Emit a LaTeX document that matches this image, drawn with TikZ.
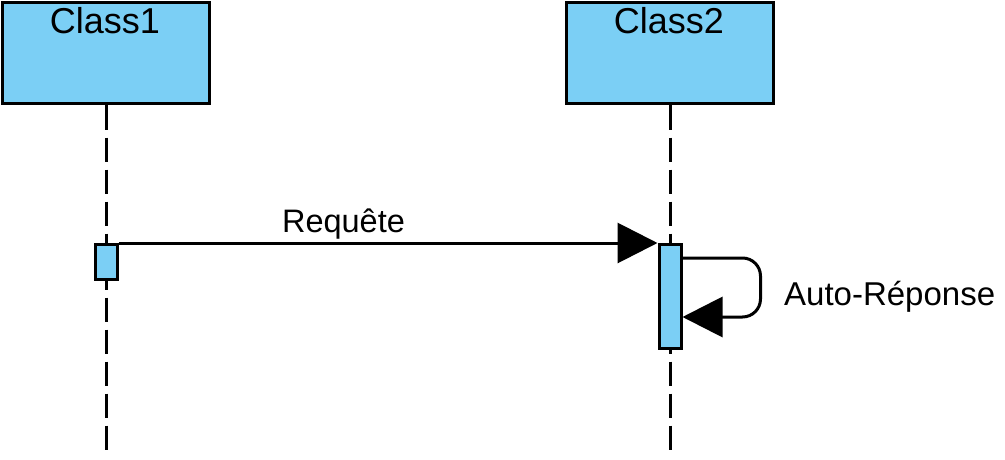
\documentclass[tikz,border=0pt]{standalone}
\usepackage{fontspec}
\setmainfont{Liberation Sans}
\usetikzlibrary{arrows.meta,calc}
\definecolor{boxblue}{HTML}{7BCFF5}
\begin{document}
\begin{tikzpicture}[x=1pt,y=-1pt,
  classbox/.style={draw=black,line width=3pt,fill=boxblue,minimum width=207pt,minimum height=101pt,inner sep=0pt},
  actbox/.style={draw=black,line width=3pt,fill=boxblue,inner sep=0pt,minimum width=22pt},
  lifeline/.style={line width=3pt,dash pattern=on 24pt off 8pt},
  msg/.style={line width=3pt,-{Triangle[length=40pt,width=40pt]}},
  lbl/.style={font=\fontsize{32.5}{38}\selectfont,inner sep=0pt},
  clbl/.style={font=\fontsize{36}{42}\selectfont,inner sep=0pt}]
\useasboundingbox (0,0) rectangle (1005,460);
% class boxes
\node[classbox] (c1) at (106,53.5) {};
\node[classbox] (c2) at (670,53.5) {};
\node[clbl,anchor=base] (c1t) at (105,34) {Class1};
\node[clbl,anchor=base] (c2t) at (669,34) {Class2};
% lifeline ends
\coordinate (e1) at (106,452);
\coordinate (e2) at (670,452);
\draw[lifeline] (c1.south) -- (e1);
\draw[lifeline] (c2.south) -- (e2);
% activation boxes
\node[actbox,minimum height=35pt] (a1) at (106,262) {};
\node[actbox,minimum height=104pt] (a2) at (670,296.5) {};
% message
\draw[msg] (a1.north east) -- (a2.north west);
\node[lbl,anchor=base] (req) at (343.5,232) {Requête};
% self message
\coordinate (s1) at ($(a2.north east)+(0,15)$);
\coordinate (s2) at ($(a2.north east)+(0,74)$);
\draw[msg,rounded corners=18pt] (s1) -- ++(78,0) |- (s2);
\node[lbl,font=\fontsize{33}{38}\selectfont,anchor=base west] (auto) at (784,305) {Auto-Réponse};
\end{tikzpicture}
\end{document}
